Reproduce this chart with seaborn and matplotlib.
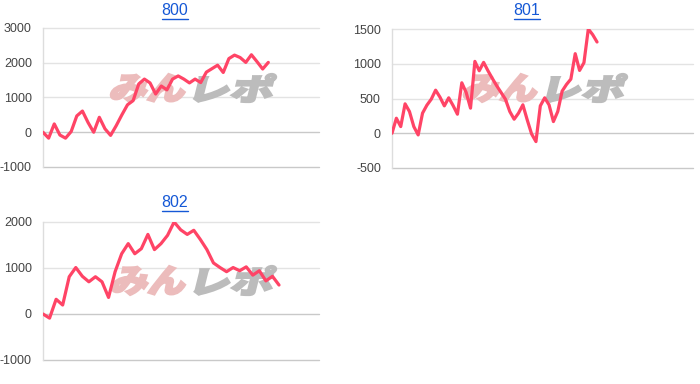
import numpy as np
import pandas as pd
import matplotlib
matplotlib.use("Agg")
import matplotlib.pyplot as plt
import seaborn as sns
from matplotlib.textpath import TextPath
from matplotlib.patches import PathPatch
from matplotlib.font_manager import FontProperties
from matplotlib.transforms import Affine2D, IdentityTransform
from matplotlib.lines import Line2D

# ---- data ----
titles = ["800", "801", "802"]
vals_800 = [0, -170, 240, -80, -170, 20, 470, 610, 280, 0, 430, 100, -90, 190, 500,
            790, 910, 1390, 1530, 1420, 1100, 1330, 1220, 1530, 1620, 1530, 1420,
            1530, 1430, 1730, 1830, 1930, 1720, 2120, 2220, 2150, 2010, 2230, 2030,
            1820, 2010]
vals_801 = [0, 216, 96, 423, 313, 96, -24, 289, 404, 490, 620, 519, 394, 510, 399,
            274, 726, 587, 361, 1034, 899, 1020, 899, 789, 683, 587, 490, 313, 202,
            289, 409, 192, -10, -120, 394, 510, 409, 168, 313, 606, 702, 779, 1145,
            904, 1015, 1500, 1419, 1313]
vals_802 = [0, -90, 320, 195, 810, 1010, 820, 700, 810, 700, 360, 920, 1310, 1530,
            1310, 1420, 1730, 1400, 1530, 1710, 2000, 1830, 1730, 1820, 1620, 1400,
            1110, 1010, 920, 1010, 940, 1025, 845, 940, 720, 820, 630]
yticks_800 = [-1000, 0, 1000, 2000, 3000]
yticks_801 = [-500, 0, 500, 1000, 1500]
yticks_802 = [-1000, 0, 1000, 2000]
watermark_pink = "みん"
watermark_gray = "レポ"

# ---- style ----
sns.set_theme(style="white")
plt.rcParams["font.family"] = ["Liberation Sans", "DejaVu Sans"]

W, H = 700, 384
fig = plt.figure(figsize=(W / 100, H / 100), dpi=100)

LINE_COLOR = "#ff4466"
GRID = "#e3e3e3"
BASE = "#c9c9c9"
TICK = "#444444"
LINK = "#1558d6"

# axes boxes in pixels: left, top, right, bottom
boxes = [(43, 28, 319, 167), (392, 29, 693, 168), (43, 222, 319, 360)]
series = [vals_800, vals_801, vals_802]
ticks = [yticks_800, yticks_801, yticks_802]
xmax = [49, 69, 42.1]
title_pos = [(175, 10.5), (527, 10.5), (175, 202.5)]
wm_boxes = [(109, 74, 277, 102), (462, 74, 628, 102), (110, 266, 277, 295)]

fp = FontProperties(family="Noto Sans CJK JP", weight="black")


def add_wm(ax, text, color, x0, y0, x1, y1, skew=14):
    tp = TextPath((0, 0), text, size=1, prop=fp)
    ext = tp.get_extents()
    h = y1 - y0
    w = (x1 - x0) - h * np.tan(np.radians(skew))
    T = (Affine2D().translate(-ext.x0, -ext.y0)
         .scale(w / ext.width, h / ext.height)
         .skew_deg(skew, 0)
         .translate(x0, H - y1))
    p = PathPatch(tp, transform=T, facecolor=color, edgecolor=color,
                  linewidth=1.6, joinstyle="miter", zorder=1.5)
    ax.add_patch(p)


title_texts = []
for i in range(3):
    l, t, r, b = boxes[i]
    ax = fig.add_axes([l / W, 1 - b / H, (r - l) / W, (b - t) / H])
    df = pd.DataFrame({"x": np.arange(len(series[i])), "y": series[i]})
    sns.lineplot(data=df, x="x", y="y", ax=ax, color=LINE_COLOR, linewidth=2.3,
                 zorder=3)
    yt = ticks[i]
    ax.set_ylim(yt[0], yt[-1])
    ax.set_xlim(0, xmax[i])
    ax.set_yticks(yt)
    ax.set_yticklabels([str(v) for v in yt], color=TICK, fontsize=9)
    ax.set_xticks([])
    ax.set_xlabel("")
    ax.set_ylabel("")
    ax.tick_params(axis="y", length=0, pad=8)
    for v in yt:
        c = BASE if v in (0, yt[0]) else GRID
        ax.axhline(v, color=c, linewidth=1, zorder=1, clip_on=False)
    for s in ["top", "right", "bottom"]:
        ax.spines[s].set_visible(False)
    ax.spines["left"].set_color("#dddddd")
    ax.spines["left"].set_linewidth(1)
    ax.set_facecolor("white")
    x0, y0, x1, y1 = wm_boxes[i]
    mid = x0 + (x1 - x0) * 0.49
    add_wm(ax, watermark_pink, "#ecbcbc", x0, y0, mid - 2, y1)
    add_wm(ax, watermark_gray, "#bcbcbc", mid + 2, y0, x1, y1)
    tx, ty = title_pos[i]
    tt = fig.text(tx / W, 1 - ty / H, titles[i], color=LINK, fontsize=11.5,
                  ha="center", va="center")
    title_texts.append(tt)

fig.canvas.draw()
for tt in title_texts:
    bb = tt.get_window_extent()
    yl = bb.y0 - 0.5
    fig.add_artist(Line2D([bb.x0, bb.x1], [yl, yl], transform=IdentityTransform(),
                          color=LINK, linewidth=1))

fig.savefig("out.png", dpi=100, facecolor="white")
